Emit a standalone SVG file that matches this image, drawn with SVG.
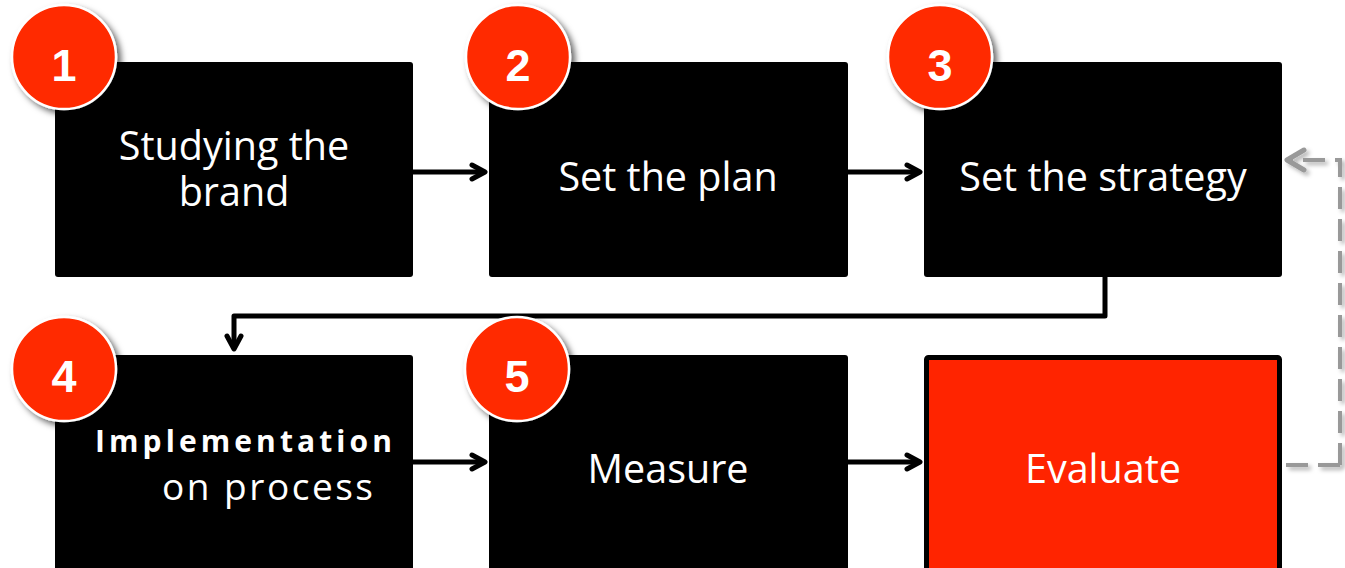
<svg xmlns="http://www.w3.org/2000/svg" width="1345" height="568" viewBox="0 0 1345 568">
<style>
.box{fill:#000}
.lbl{font-family:"Open Sans","Liberation Sans",sans-serif;font-size:39.5px;fill:#fff;text-anchor:middle}
.num{font-family:"Liberation Sans",Arial,sans-serif;font-weight:bold;font-size:45px;fill:#fff;text-anchor:middle}
.badge{fill:#FF2A00;stroke:#fff;stroke-width:2.5;filter:url(#sh)}
.conn{fill:none;stroke:#000;stroke-width:5;stroke-linejoin:round}
.dash{fill:none;stroke:#999;stroke-width:4;stroke-dasharray:22 10}
</style>
<defs>
<filter id="sh" x="-30%" y="-30%" width="170%" height="170%">
<feGaussianBlur in="SourceAlpha" stdDeviation="3"/>
<feOffset dx="4" dy="4" result="b"/>
<feFlood flood-color="#000" flood-opacity="0.6"/>
<feComposite in2="b" operator="in"/>
<feMerge><feMergeNode/><feMergeNode in="SourceGraphic"/></feMerge>
</filter>
<filter id="sh2" x="-10%" y="-10%" width="130%" height="130%">
<feGaussianBlur in="SourceAlpha" stdDeviation="2"/>
<feOffset dx="3" dy="3" result="b"/>
<feFlood flood-color="#000" flood-opacity="0.3"/>
<feComposite in2="b" operator="in"/>
<feMerge><feMergeNode/><feMergeNode in="SourceGraphic"/></feMerge>
</filter>
<marker id="ah" viewBox="0 0 20 20" refX="17" refY="10" markerWidth="20" markerHeight="20" markerUnits="userSpaceOnUse" orient="auto">
<path d="M4 3 L17 10 L4 17" fill="none" stroke="#000" stroke-width="5" stroke-linecap="round" stroke-linejoin="round"/>
</marker>
</defs>

<g id="connectors">
<line class="conn" x1="413" y1="172" x2="485" y2="172" marker-end="url(#ah)"/>
<line class="conn" x1="848" y1="172" x2="920" y2="172" marker-end="url(#ah)"/>
<path class="conn" d="M1105 277 V316 H234 V349" marker-end="url(#ah)"/>
<line class="conn" x1="413" y1="462" x2="485" y2="462" marker-end="url(#ah)"/>
<line class="conn" x1="848" y1="462" x2="920" y2="462" marker-end="url(#ah)"/>
<g filter="url(#sh2)">
<path class="dash" d="M1340 465 H1284 M1340 465 V160 H1288"/>
<path d="M1304 150 L1287 160 L1304 170" fill="none" stroke="#999" stroke-width="5" stroke-linecap="round" stroke-linejoin="round"/>
</g>
</g>

<g id="node1">
<rect class="box" x="55" y="62" width="358" height="215" rx="3"/>
<text class="lbl"><tspan x="234" y="160">Studying the</tspan><tspan x="234" y="206">brand</tspan></text>
<circle class="badge" cx="64" cy="57" r="52"/>
<text class="num" x="64" y="81">1</text>
</g>
<g id="node2">
<rect class="box" x="489" y="62" width="359" height="215" rx="3"/>
<text class="lbl" x="668" y="191">Set the plan</text>
<circle class="badge" cx="518" cy="57" r="52"/>
<text class="num" x="518" y="81">2</text>
</g>
<g id="node3">
<rect class="box" x="924" y="62" width="358" height="215" rx="3"/>
<text class="lbl" x="1103" y="191">Set the strategy</text>
<circle class="badge" cx="940" cy="57" r="52"/>
<text class="num" x="940" y="81">3</text>
</g>
<g id="node4">
<rect class="box" x="55" y="355" width="358" height="220" rx="3"/>
<text x="95" y="452" font-family="'Open Sans','Liberation Sans',sans-serif" font-weight="bold" font-size="30" fill="#fff" textLength="297" lengthAdjust="spacing">Implementation</text>
<text x="162" y="500" font-family="'Open Sans','Liberation Sans',sans-serif" font-size="37" fill="#fff" textLength="211" lengthAdjust="spacing">on process</text>
<circle class="badge" cx="64" cy="369" r="52"/>
<text class="num" x="64" y="392">4</text>
</g>
<g id="node5">
<rect class="box" x="489" y="355" width="359" height="220" rx="3"/>
<text class="lbl" x="668" y="483">Measure</text>
<circle class="badge" cx="517" cy="369" r="52"/>
<text class="num" x="517" y="392">5</text>
</g>
<g id="node6">
<rect x="926.5" y="357.5" width="353" height="220" rx="2" fill="#FF2400" stroke="#000" stroke-width="5"/>
<text class="lbl" x="1103" y="483">Evaluate</text>
</g>
</svg>
